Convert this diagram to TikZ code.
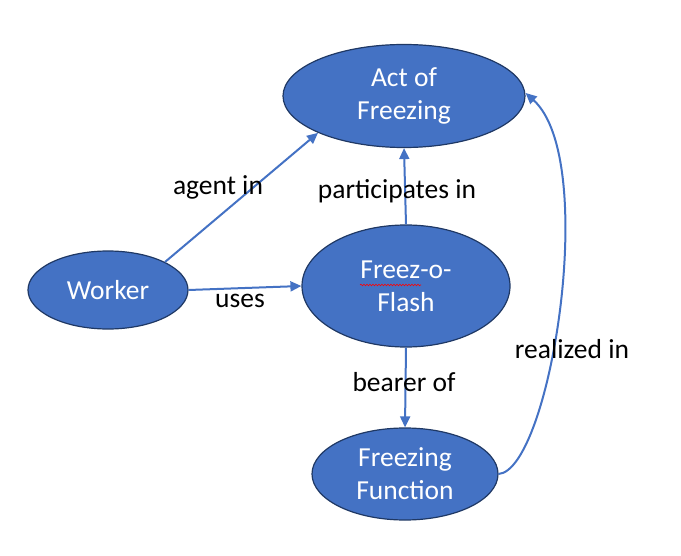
\documentclass[tikz,border=0pt]{standalone}
\usepackage{fontspec}
\setmainfont{Carlito}
\usetikzlibrary{arrows.meta,shapes.geometric,decorations.pathmorphing}
\definecolor{ofblue}{HTML}{4472C4}
\definecolor{ofline}{HTML}{1F3864}
\begin{document}
\begin{tikzpicture}[x=1bp,y=-1bp,
  concept/.style={ellipse,draw=ofline,line width=1.2bp,fill=ofblue,text=white,inner sep=0pt,
    minimum width=#1, align=center,font=\fontsize{27.5bp}{33bp}\selectfont},
  rel/.style={draw=ofblue,line width=2bp,-{Triangle[length=11bp,width=10bp]}},
  lbl/.style={font=\fontsize{27.5bp}{33bp}\selectfont,text=black,inner sep=0pt}]
\useasboundingbox (0,0) rectangle (681,556);
\node[concept=242bp,minimum height=103bp] (act) at (404,96) {Act of\\Freezing};
\node[concept=160bp,minimum height=78bp] (worker) at (108,290) {Worker};
\node[concept=208bp,minimum height=122bp] (flash) at (406,286) {Freez-o-\\Flash};
\node[concept=186bp,minimum height=92bp] (func) at (405,474) {Freezing\\Function};
\coordinate (w1) at (165,262);
\draw[rel] (w1) -- (act.south west);
\draw[rel] (worker.east) -- (flash.west);
\draw[rel] (flash.north) -- (act.south);
\draw[rel] (flash.south) -- (func.north);
\draw[rel] (func.east) .. controls (550,470) and (600,160) .. ([yshift=3bp]act.east);
\node[lbl] (l1) at (218,187) {agent in};
\node[lbl] (l2) at (240,301) {uses};
\node[lbl] (l3) at (397,191) {participates in};
\node[lbl] (l4) at (404,382) {bearer of};
\node[lbl] (l5) at (572,349) {realized in};
\coordinate (sq1) at (360,285);
\coordinate (sq2) at (421,285);
\draw[red,line width=0.6bp,decorate,decoration={snake,amplitude=0.8bp,segment length=3bp}] (sq1) -- (sq2);
\end{tikzpicture}
\end{document}
